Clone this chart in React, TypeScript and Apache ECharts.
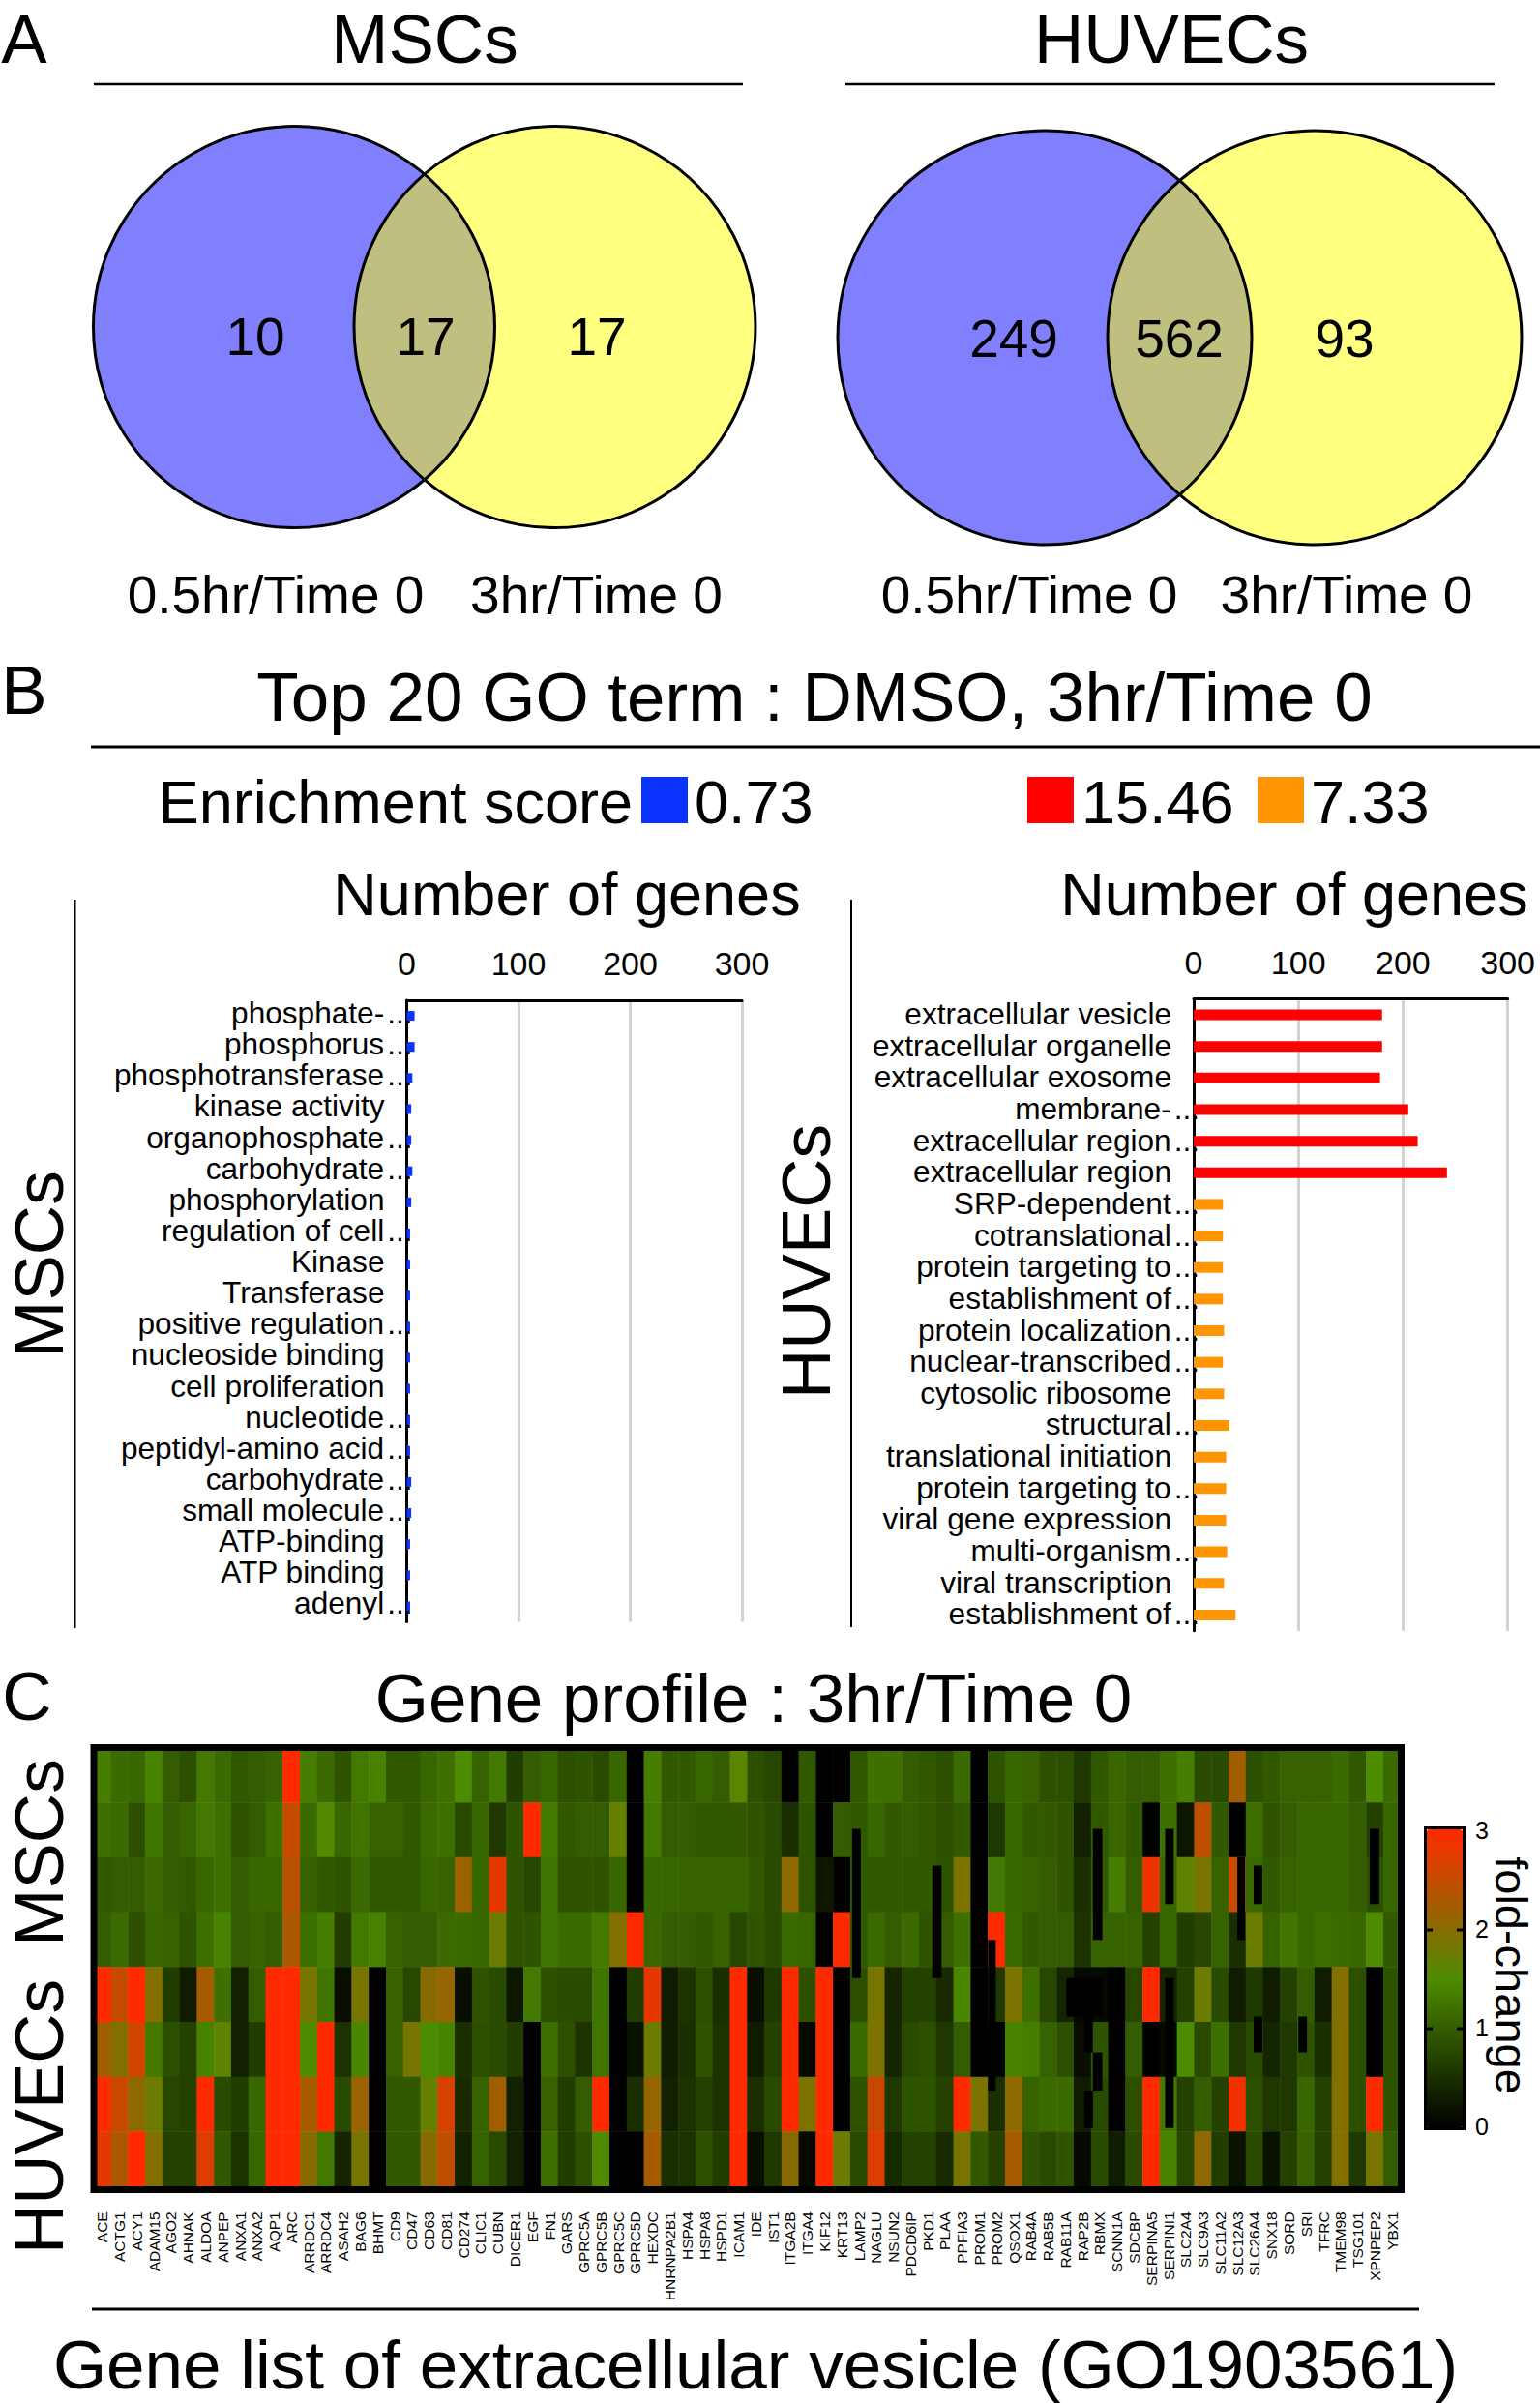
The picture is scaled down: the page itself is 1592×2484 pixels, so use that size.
import React, { useEffect, useRef } from "react";
import * as echarts from "echarts";

const FONT = "Liberation Sans";

// Panel A
const vennLeftCounts = [10, 17, 17];
const vennRightCounts = [249, 562, 93];

// Panel B
const mscTerms = ["phosphate-...", "phosphorus...", "phosphotransferase...", "kinase activity", "organophosphate...", "carbohydrate...", "phosphorylation", "regulation of cell...", "Kinase", "Transferase", "positive regulation...", "nucleoside binding", "cell proliferation", "nucleotide...", "peptidyl-amino acid...", "carbohydrate...", "small molecule...", "ATP-binding", "ATP binding", "adenyl..."];
const mscGenes = [7, 7, 5, 4, 4, 5, 4, 3, 3, 3, 3, 3, 3, 3, 3, 4, 4, 3, 3, 3];
const huvecTerms = ["extracellular vesicle", "extracellular organelle", "extracellular exosome", "membrane-...", "extracellular region...", "extracellular region", "SRP-dependent...", "cotranslational...", "protein targeting to...", "establishment of...", "protein localization...", "nuclear-transcribed...", "cytosolic ribosome", "structural...", "translational initiation", "protein targeting to...", "viral gene expression", "multi-organism...", "viral transcription", "establishment of..."];
const huvecGenes = [180, 180, 178, 205, 214, 242, 28, 28, 28, 28, 29, 28, 29, 34, 31, 31, 31, 32, 29, 40];
const huvecRedCount = 6;

// Panel C
const genes = ["ACE", "ACTG1", "ACY1", "ADAM15", "AGO2", "AHNAK", "ALDOA", "ANPEP", "ANXA1", "ANXA2", "AQP1", "ARC", "ARRDC1", "ARRDC4", "ASAH2", "BAG6", "BHMT", "CD9", "CD47", "CD63", "CD81", "CD274", "CLIC1", "CUBN", "DICER1", "EGF", "FN1", "GARS", "GPRC5A", "GPRC5B", "GPRC5C", "GPRC5D", "HEXDC", "HNRNPA2B1", "HSPA4", "HSPA8", "HSPD1", "ICAM1", "IDE", "IST1", "ITGA2B", "ITGA4", "KIF12", "KRT13", "LAMP2", "NAGLU", "NSUN2", "PDCD6IP", "PKD1", "PLAA", "PPFIA3", "PROM1", "PROM2", "QSOX1", "RAB4A", "RAB5B", "RAB11A", "RAP2B", "RBMX", "SCNN1A", "SDCBP", "SERPINA5", "SERPINI1", "SLC2A4", "SLC9A3", "SLC11A2", "SLC12A3", "SLC26A4", "SNX18", "SORD", "SRI", "TFRC", "TMEM98", "TSG101", "XPNPEP2", "YBX1"];
const heatRow0 = [1.35,1.15,1.1,1.4,1.0,.85,1.3,1.15,.95,1.0,1.05,3,1.35,1.15,.9,1.3,1.4,.95,.95,1.1,1.2,1.5,1.05,1.3,.65,1.0,1.1,.85,.9,.8,1.1,0,1.35,.95,.95,1.1,1.0,1.6,.85,.75,0,.95,0,0,.95,1.2,1.2,1.0,.95,.85,1.15,0,.9,1.1,1.05,.85,.85,.6,.95,1.1,1.0,1.0,1.2,1.35,.8,.8,2.2,.85,.95,1.05,1.05,1.05,1.15,.95,1.5,1.15];
const heatRow1 = [1.2,1.15,.85,1.25,1.0,1.1,1.3,1.2,.9,1.0,1.2,2.5,1.15,1.55,1.1,1.25,1.05,1.05,.95,1.15,1.2,.8,1.1,.6,.9,3,1.3,.95,1.0,1.0,1.7,0,1.3,1.0,1.0,.95,.95,.95,.9,.8,.5,.9,0,1.0,.95,1.1,.95,1.0,.95,.85,.95,0,.6,1.1,.95,.95,.9,.35,.95,1.1,.95,0,1.2,.25,2.45,.95,0,1.2,.9,1.0,1.1,1.1,1.1,1.0,.7,1.1];
const heatRow2 = [.95,1.0,1.0,1.15,1.0,.95,1.1,1.2,1.0,1.1,1.1,2.4,1.05,.95,.9,1.15,.95,.95,.95,1.1,1.05,2.15,1.1,2.8,.9,.75,1.25,.9,.9,.9,1.1,0,1.1,1.1,1.05,1.05,1.05,1.05,.95,.8,2.05,.9,.25,0,.95,.95,.95,.95,.95,.9,1.9,0,1.3,1.1,1.05,1.0,.9,.5,.95,1.35,1.0,2.85,1.1,1.65,1.85,1.05,2.5,1.15,.95,1.05,1.1,1.1,1.1,1.0,.85,1.1];
const heatRow3 = [1.0,1.15,.85,1.1,1.05,.9,1.2,1.4,1.0,1.05,1.0,2.3,1.2,1.35,.65,1.3,1.4,1.05,1.0,1.0,1.15,1.15,1.1,1.75,.9,.9,1.25,1.15,1.15,1.3,1.95,3,1.1,1.0,1.0,.95,1.05,.75,.9,.8,1.15,1.1,0,3,.95,1.15,1.0,1.15,.9,1.0,1.2,0,3,1.15,.95,1.0,1.0,.55,1.05,1.05,1.05,.7,1.1,.65,.75,1.05,.5,1.75,1.05,1.25,1.1,1.2,1.15,1.1,1.5,.95];
const heatRow4 = [3,2.5,3,1.95,.65,.3,2.25,1.2,.35,1.0,3,3,1.85,1.25,.15,1.85,0,1.05,.75,2.0,2.1,.15,.9,.8,.25,1.3,.85,.8,.8,1.25,0,.65,2.8,.3,.55,.85,.5,3,.15,.6,3,.85,3,0,.85,1.85,.4,.7,.7,.45,1.45,0,.6,1.9,1.2,.75,.4,.1,.1,0,.75,3,.4,.7,1.75,.8,.3,.6,.3,.7,1.0,.3,1.95,.85,0,.9];
const heatRow5 = [2.2,1.95,2.6,1.3,.85,.7,1.4,1.65,.35,.65,3,3,1.5,3,.55,1.45,0,1.05,1.85,1.5,1.4,.5,.85,.8,.65,0,1.2,.85,.55,1.25,0,.2,1.75,.3,.5,.9,.55,3,.3,.7,3,.1,3,0,1.15,1.9,.4,.8,.85,.6,1.0,0,0,1.4,1.35,1.05,.85,.15,.9,0,1.0,0,.1,1.5,.8,1.2,.6,.8,.4,.6,.9,.5,1.95,.85,0,.9];
const heatRow6 = [3,2.55,2.05,1.75,.75,.7,3,.8,.65,1.1,3,3,2.25,3,.8,2.15,0,.95,.95,1.7,2.65,.45,1.05,2.2,.35,0,1.05,.65,1.0,3,0,.5,2.1,.35,.55,.7,.55,3,.5,.8,3,1.9,3,0,.9,2.55,.6,.9,.9,.7,3,1.9,.5,2.05,1.05,1.15,1.15,.3,.8,0,.85,3,1.3,.7,1.0,.7,2.9,.85,.6,.6,1.1,.7,1.95,.85,3,.9];
const heatRow7 = [2.8,2.3,3,1.95,.7,.7,2.7,.95,.55,1.1,3,3,2.0,1.3,.4,1.85,0,.95,.95,2.0,2.45,.35,1.05,.8,.35,0,1.2,.65,.85,1.55,0,0,2.25,.5,.55,.85,.65,3,.15,.6,2.0,.1,3,1.75,.8,2.7,.45,.7,.7,.45,1.85,.95,.7,2.25,.9,.8,.9,.1,.8,.3,.8,3,1.4,.75,2.05,.65,.2,.8,.2,.7,1.05,.7,1.95,.6,1.85,1.0];
const heatRows = [heatRow0, heatRow1, heatRow2, heatRow3, heatRow4, heatRow5, heatRow6, heatRow7];
const rowNames = ["M1", "M2", "M3", "M4", "H1", "H2", "H3", "H4"];
// narrow no-signal streaks: column start, column end, row start, row end (in cell units)
const gapBars = [
  [44.1, 44.6, 1.48, 4.2], [48.76, 49.3, 2.15, 4.2], [58.1, 58.65, 1.48, 3.5], [62.3, 62.8, 1.48, 2.85],
  [62.3, 62.8, 4.2, 6.93], [66.5, 66.95, 2.0, 3.5], [67.45, 67.95, 2.15, 2.85], [67.45, 67.95, 4.9, 5.55],
  [70.05, 70.55, 4.9, 5.55], [74.2, 74.75, 1.48, 2.85], [56.55, 58.65, 4.2, 4.9], [57.6, 58.1, 4.9, 5.55],
  [58.1, 58.65, 5.55, 6.25], [57.6, 58.1, 6.25, 6.93], [52, 52.45, 3.5, 6.25],
];
const foldTicks = [0, 1, 2, 3];

const BLUE = "#8080ff", YELLOW = "#ffff80", OVERLAP = "#bfbf80";

function lensPath(cx1: number, cx2: number, cy: number, r: number) {
  const xm = (cx1 + cx2) / 2;
  const h = Math.sqrt(r * r - ((cx2 - cx1) / 2) ** 2);
  return `M ${xm} ${cy - h} A ${r} ${r} 0 0 1 ${xm} ${cy + h} A ${r} ${r} 0 0 1 ${xm} ${cy - h} Z`;
}
echarts.graphic.registerShape("lensL", echarts.graphic.extendPath(lensPath(304, 573.5, 338, 207.5), {}));
echarts.graphic.registerShape("lensR", echarts.graphic.extendPath(lensPath(1080, 1359, 349, 214), {}));

const txt = (text: string, x: number, y: number, size: number, rotation = 0, align = "center") => ({
  type: "text", x, y, rotation, z: 50,
  style: { text, fontSize: size, fontFamily: FONT, fill: "#000", textAlign: align, textVerticalAlign: "middle" },
});
const hline = (x1: number, x2: number, y: number, w: number) => ({
  type: "line", z: 50, shape: { x1, x2, y1: y, y2: y }, style: { stroke: "#000", lineWidth: w },
});
const vline = (x: number, y1: number, y2: number, w: number) => ({
  type: "line", z: 50, shape: { x1: x, x2: x, y1, y2 }, style: { stroke: "#000", lineWidth: w },
});
const venn = (cx1: number, cx2: number, cy: number, r: number, shape: string) => [
  { type: "circle", shape: { cx: cx1, cy, r }, style: { fill: BLUE } },
  { type: "circle", shape: { cx: cx2, cy, r }, style: { fill: YELLOW } },
  { type: shape, x: 0, y: 0, style: { fill: OVERLAP } },
  { type: "circle", shape: { cx: cx1, cy, r }, style: { fill: "none", stroke: "#000", lineWidth: 3 } },
  { type: "circle", shape: { cx: cx2, cy, r }, style: { fill: "none", stroke: "#000", lineWidth: 3 } },
];
const square = (x: number, fill: string) => ({ type: "rect", shape: { x, y: 803, width: 48, height: 48 }, style: { fill } });

const TERM_SIZE = 31.6;
const termLabels = (name: string) => {
  if (name.endsWith("...")) return `{n|${name.slice(0, -3)}}{d|...}`;
  return `{f|${name}}`;
};
const termRich = (lift: number) => ({
  n: { fontSize: TERM_SIZE, fontFamily: FONT, color: "#000", padding: [0, 0, lift, 0] },
  d: { fontSize: TERM_SIZE, fontFamily: FONT, color: "#000", padding: [0, 0, lift, 3] },
  f: { fontSize: TERM_SIZE, fontFamily: FONT, color: "#000", padding: [0, 29, lift, 0] },
});

const barAxis = (gridIndex: number) => ({
  type: "value", gridIndex, position: "top", min: 0, max: 300, interval: 100,
  axisLine: { show: true, onZero: false, lineStyle: { color: "#000", width: 3 } },
  axisTick: { show: false },
  axisLabel: { fontSize: 34, fontFamily: FONT, color: "#000", margin: 21 },
  splitLine: { show: true, lineStyle: { color: "#d2d2d2", width: 3 } },
});
const catAxis = (gridIndex: number, data: string[], lift: number) => ({
  type: "category", gridIndex, data, inverse: true,
  axisLine: { show: true, lineStyle: { color: "#000", width: 3 } },
  axisTick: { show: false },
  axisLabel: { interval: 0, margin: -6, formatter: termLabels, rich: termRich(lift), fontSize: TERM_SIZE, fontFamily: FONT, color: "#000" },
});

export default function App() {
  const ref = useRef<HTMLDivElement>(null);
  useEffect(() => {
    const chart = echarts.init(ref.current!, null, { renderer: "svg" });
    const heatData: number[][] = [];
    heatRows.forEach((row, r) => row.forEach((v, c) => heatData.push([c, r, v])));
    chart.setOption({
      animation: false,
      backgroundColor: "#fff",
      grid: [
        { left: 420.5, top: 1034, width: 346.5, height: 642.5 },
        { left: 1234, top: 1032.7, width: 324.6, height: 653 },
        { left: 97, top: 1806.7, width: 1351, height: 453.6 },
      ],
      xAxis: [
        barAxis(0),
        barAxis(1),
        {
          type: "category", gridIndex: 2, data: genes,
          axisLine: { show: false }, axisTick: { show: false }, splitLine: { show: false },
          axisLabel: { interval: 0, rotate: 90, margin: 26, fontSize: 15.5, fontFamily: FONT, color: "#000" },
        },
      ],
      yAxis: [
        catAxis(0, mscTerms, 6),
        catAxis(1, huvecTerms, 2),
        {
          type: "category", gridIndex: 2, data: rowNames, inverse: true,
          axisLine: { show: false }, axisTick: { show: false }, axisLabel: { show: false }, splitLine: { show: false },
        },
      ],
      visualMap: [{
        type: "continuous", seriesIndex: 2, dimension: 2, min: 0, max: 3, show: true,
        left: 1475, top: 1891, itemWidth: 37, itemHeight: 309, padding: 0, calculable: false, hoverLink: false,
        inRange: { color: ["#000000", "#4d8c00", "#ff2a00"] },
      }],
      series: [
        {
          type: "bar", xAxisIndex: 0, yAxisIndex: 0, data: mscGenes, barWidth: 10,
          itemStyle: { color: "#0a33ff" }, silent: true, z: 1,
        },
        {
          type: "bar", xAxisIndex: 1, yAxisIndex: 1, barWidth: 11, silent: true, z: 1,
          data: huvecGenes.map((v, i) => ({ value: v, itemStyle: { color: i < huvecRedCount ? "#ff0000" : "#ff9500" } })),
        },
        {
          type: "heatmap", xAxisIndex: 2, yAxisIndex: 2, data: heatData, silent: true,
          itemStyle: { borderWidth: 0 }, emphasis: { disabled: true },
        },
        {
          type: "custom", xAxisIndex: 2, yAxisIndex: 2, silent: true, z: 5,
          data: gapBars.map((g) => [Math.floor(g[0]), Math.floor(g[2])]),
          clip: true,
          renderItem: (params: any, api: any) => {
            const g = gapBars[params.dataIndex];
            const p = api.coord([0, 0]);
            const s = api.size([1, 1]);
            return {
              type: "rect",
              shape: {
                x: p[0] - s[0] / 2 + g[0] * s[0],
                y: p[1] - s[1] / 2 + g[2] * s[1],
                width: (g[1] - g[0]) * s[0],
                height: (g[3] - g[2]) * s[1],
              },
              style: { fill: "#000" },
            };
          },
        },
      ],
      graphic: {
        elements: [
          txt("A", 25, 40, 71), txt("B", 25, 713, 71), txt("C", 28, 1753, 71),
          txt("MSCs", 439, 40, 71), txt("HUVECs", 1211, 40, 71),
          hline(97, 768, 87, 2.5), hline(874, 1545, 87, 2.5),
          ...venn(304, 573.5, 338, 207.5, "lensL"),
          ...venn(1080, 1359, 349, 214, "lensR"),
          txt(String(vennLeftCounts[0]), 264, 348, 55), txt(String(vennLeftCounts[1]), 440, 348, 55), txt(String(vennLeftCounts[2]), 617, 348, 55),
          txt(String(vennRightCounts[0]), 1048, 350, 55), txt(String(vennRightCounts[1]), 1219, 350, 55), txt(String(vennRightCounts[2]), 1390, 350, 55),
          txt("0.5hr/Time 0", 285, 615, 55), txt("3hr/Time 0", 616.5, 615, 55),
          txt("0.5hr/Time 0", 1064, 615, 55), txt("3hr/Time 0", 1392, 615, 55),
          txt("Top 20 GO term : DMSO, 3hr/Time 0", 842, 720, 71),
          hline(94, 1592, 772, 3),
          txt("Enrichment score", 654, 829, 63, 0, "right"),
          square(663, "#0a33ff"), txt("0.73", 718, 829, 63, 0, "left"),
          square(1062, "#ff0000"), txt("15.46", 1118, 829, 63, 0, "left"),
          square(1300, "#ff9500"), txt("7.33", 1355, 829, 63, 0, "left"),
          txt("Number of genes", 586, 924, 63), txt("Number of genes", 1338, 924, 63),
          vline(77.5, 930, 1683, 2), vline(880, 930, 1682, 2),
          txt("MSCs", 40, 1307, 71, Math.PI / 2), txt("HUVECs", 833, 1304, 71, Math.PI / 2),
          txt("Gene profile : 3hr/Time 0", 779, 1755, 71),
          txt("MSCs", 40, 1915, 71, Math.PI / 2), txt("HUVECs", 40, 2188, 71, Math.PI / 2),
          { type: "rect", z: 60, shape: { x: 97, y: 1806.5, width: 1351.5, height: 457 }, style: { fill: "none", stroke: "#000", lineWidth: 7 } },
          { type: "rect", z: 60, shape: { x: 1473.5, y: 1889.5, width: 40, height: 311 }, style: { fill: "none", stroke: "#000", lineWidth: 3 } },
          hline(1475, 1481, 2097, 3), hline(1506, 1513, 2097, 3), hline(1475, 1481, 1995, 3), hline(1506, 1513, 1995, 3),
          ...foldTicks.map((t) => txt(String(t), 1532, 2198 - t * 102, 25)),
          txt("fold-change", 1562, 2042, 47, -Math.PI / 2),
          hline(95, 1467, 2387, 3),
          txt("Gene list of extracellular vesicle (GO1903561)", 781, 2444, 71),
        ],
      },
    });
    return () => chart.dispose();
  }, []);
  return <div ref={ref} style={{ position: "absolute", left: 0, top: 0, width: 1592, height: 2484 }} />;
}
